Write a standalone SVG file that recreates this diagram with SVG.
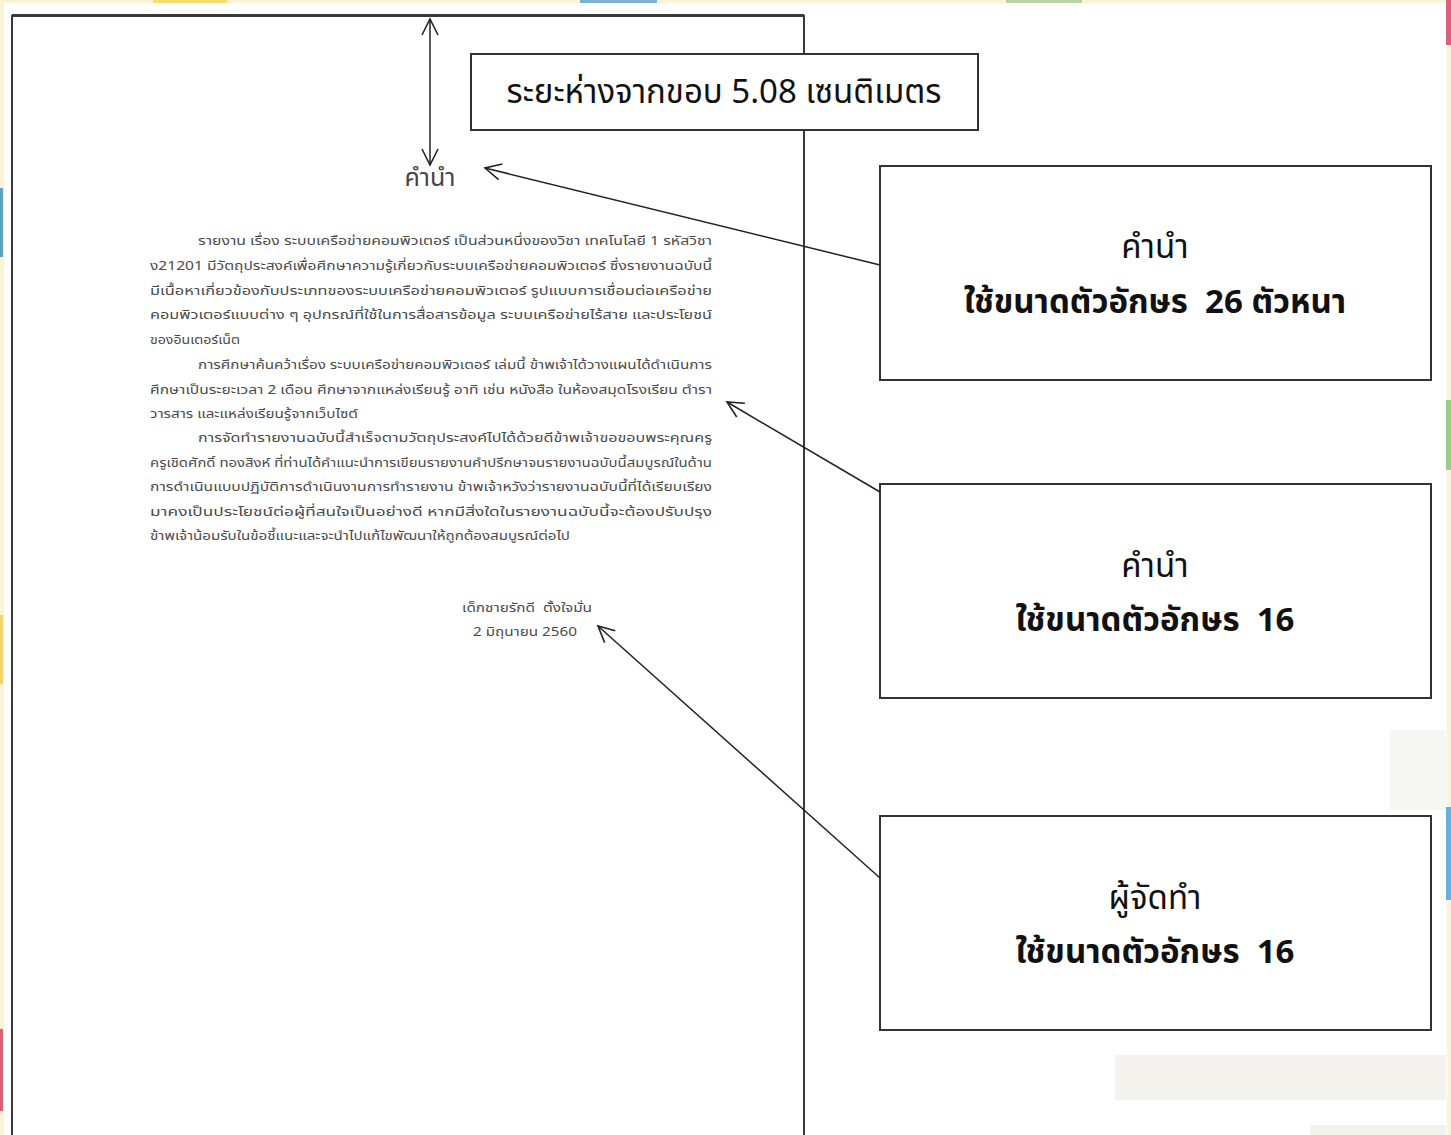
<svg xmlns="http://www.w3.org/2000/svg" width="1451" height="1135" viewBox="0 0 1451 1135">
<style>
.th{font-family:"Noto Sans Thai","Tahoma","DejaVu Sans","Noto Sans",sans-serif}
.lbl{font-size:33px;fill:#111}
.lblb{font-size:33px;fill:#111;font-weight:bold}
.para{font-size:12.5px;fill:#4a4a4a}
.box{fill:#fff;stroke:#333;stroke-width:2}
.con{stroke:#222;stroke-width:1.5;fill:none}
</style>
<defs>
<marker id="ah" viewBox="0 0 20 20" refX="18" refY="10" markerWidth="20" markerHeight="20" markerUnits="userSpaceOnUse" orient="auto-start-reverse">
<path d="M2,2 L18,10 L2,18" fill="none" stroke="#222" stroke-width="1.6"/>
</marker>
</defs>
<rect width="1451" height="1135" fill="#fff"/>
<g id="frame">
<rect x="0" y="0" width="1451" height="3" fill="#fbf3d6"/>
<rect x="0" y="0" width="4" height="1135" fill="#fbf3d6"/>
<rect x="1447" y="0" width="4" height="1135" fill="#fbf3d6"/>
<rect x="153" y="0" width="74" height="3" fill="#f7dc72"/>
<rect x="580" y="0" width="77" height="3" fill="#7fb0d8"/>
<rect x="1006" y="0" width="76" height="3" fill="#b9d3a8"/>
<rect x="0" y="188" width="3" height="69" fill="#5f9fc0"/>
<rect x="0" y="615" width="3" height="69" fill="#f3d36a"/>
<rect x="0" y="1029" width="3" height="82" fill="#d9627a"/>
<rect x="1446" y="0" width="5" height="45" fill="#d9627a"/>
<rect x="1446" y="400" width="5" height="70" fill="#9ccc8a"/>
<rect x="1446" y="807" width="5" height="93" fill="#6aaedb"/>
<rect x="1390" y="730" width="56" height="80" fill="#f6f6f3"/>
<rect x="1115" y="1055" width="331" height="45" fill="#f4f2ec"/>
<rect x="1310" y="1125" width="136" height="10" fill="#f4f2ec"/>
</g>
<g id="page">
<path d="M12,1135 L12,16 L804,16 L804,1135" fill="#fff" stroke="#3a3a3a" stroke-width="2"/>
<line x1="12" y1="15.5" x2="804" y2="15.5" stroke="#3a3a3a" stroke-width="3"/>
<text class="th" x="430" y="186" font-size="25" fill="#444" text-anchor="middle">คำนำ</text>
<g class="th para">
<text x="198" y="245" textLength="514" lengthAdjust="spacingAndGlyphs">รายงาน เรื่อง ระบบเครือข่ายคอมพิวเตอร์ เป็นส่วนหนึ่งของวิชา เทคโนโลยี 1 รหัสวิชา</text>
<text x="150" y="270" textLength="562" lengthAdjust="spacingAndGlyphs">ง21201 มีวัตถุประสงค์เพื่อศึกษาความรู้เกี่ยวกับระบบเครือข่ายคอมพิวเตอร์ ซึ่งรายงานฉบับนี้</text>
<text x="150" y="295" textLength="562" lengthAdjust="spacingAndGlyphs">มีเนื้อหาเกี่ยวข้องกับประเภทของระบบเครือข่ายคอมพิวเตอร์ รูปแบบการเชื่อมต่อเครือข่าย</text>
<text x="150" y="319" textLength="562" lengthAdjust="spacingAndGlyphs">คอมพิวเตอร์แบบต่าง ๆ อุปกรณ์ที่ใช้ในการสื่อสารข้อมูล ระบบเครือข่ายไร้สาย และประโยชน์</text>
<text x="150" y="344" textLength="90" lengthAdjust="spacingAndGlyphs">ของอินเตอร์เน็ต</text>
<text x="198" y="369" textLength="514" lengthAdjust="spacingAndGlyphs">การศึกษาค้นคว้าเรื่อง ระบบเครือข่ายคอมพิวเตอร์ เล่มนี้ ข้าพเจ้าได้วางแผนได้ดำเนินการ</text>
<text x="150" y="394" textLength="562" lengthAdjust="spacingAndGlyphs">ศึกษาเป็นระยะเวลา 2 เดือน ศึกษาจากแหล่งเรียนรู้ อาทิ เช่น หนังสือ ในห้องสมุดโรงเรียน  ตำรา</text>
<text x="150" y="418" textLength="208" lengthAdjust="spacingAndGlyphs">วารสาร และแหล่งเรียนรู้จากเว็บไซต์</text>
<text x="198" y="442" textLength="514" lengthAdjust="spacingAndGlyphs">การจัดทำรายงานฉบับนี้สำเร็จตามวัตถุประสงค์ไปได้ด้วยดีข้าพเจ้าขอขอบพระคุณครู</text>
<text x="150" y="467" textLength="562" lengthAdjust="spacingAndGlyphs">ครูเชิดศักดิ์ ทองสิงห์ ที่ท่านได้คำแนะนำการเขียนรายงานคำปรึกษาจนรายงานฉบับนี้สมบูรณ์ในด้าน</text>
<text x="150" y="491" textLength="562" lengthAdjust="spacingAndGlyphs">การดำเนินแบบปฏิบัติการดำเนินงานการทำรายงาน ข้าพเจ้าหวังว่ารายงานฉบับนี้ที่ได้เรียบเรียง</text>
<text x="150" y="516" textLength="562" lengthAdjust="spacingAndGlyphs">มาคงเป็นประโยชน์ต่อผู้ที่สนใจเป็นอย่างดี หากมีสิ่งใดในรายงานฉบับนี้จะต้องปรับปรุง</text>
<text x="150" y="540" textLength="420" lengthAdjust="spacingAndGlyphs">ข้าพเจ้าน้อมรับในข้อชี้แนะและจะนำไปแก้ไขพัฒนาให้ถูกต้องสมบูรณ์ต่อไป</text>
<text x="462" y="612" textLength="130" lengthAdjust="spacingAndGlyphs">เด็กชายรักดี&#160;&#160;ตั้งใจมั่น</text>
<text x="473" y="636" textLength="104" lengthAdjust="spacingAndGlyphs">2 มิถุนายน 2560</text>
</g>
</g>
<g id="n-margin">
<rect class="box" x="471" y="54" width="507" height="76"/>
<text class="th lbl" x="724" y="103" text-anchor="middle">ระยะห่างจากขอบ 5.08 เซนติเมตร</text>
</g>
<g id="n-title">
<rect class="box" x="880" y="166" width="551" height="214"/>
<text class="th lbl" x="1155" y="258" text-anchor="middle">คำนำ</text>
<text class="th lblb" x="1155" y="313" text-anchor="middle">ใช้ขนาดตัวอักษร&#160;&#160;26 ตัวหนา</text>
</g>
<g id="n-body">
<rect class="box" x="880" y="484" width="551" height="214"/>
<text class="th lbl" x="1155" y="577" text-anchor="middle">คำนำ</text>
<text class="th lblb" x="1155" y="631" text-anchor="middle">ใช้ขนาดตัวอักษร&#160;&#160;16</text>
</g>
<g id="n-author">
<rect class="box" x="880" y="816" width="551" height="214"/>
<text class="th lbl" x="1155" y="909" text-anchor="middle">ผู้จัดทำ</text>
<text class="th lblb" x="1155" y="963" text-anchor="middle">ใช้ขนาดตัวอักษร&#160;&#160;16</text>
</g>
<g id="connectors">
<line class="con" x1="430" y1="19" x2="430" y2="165" marker-start="url(#ah)" marker-end="url(#ah)"/>
<line class="con" x1="880" y1="265" x2="485" y2="168" marker-end="url(#ah)"/>
<line class="con" x1="880" y1="492" x2="727" y2="402" marker-end="url(#ah)"/>
<line class="con" x1="880" y1="878" x2="598" y2="626" marker-end="url(#ah)"/>
</g>
</svg>
